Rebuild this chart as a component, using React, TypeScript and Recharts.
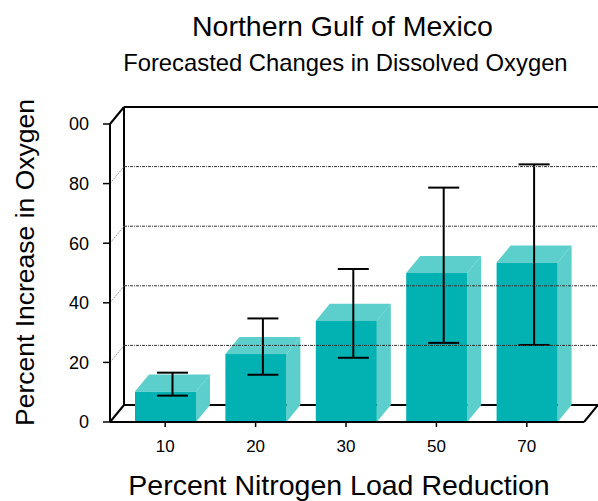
import React from 'react';
import { BarChart, Bar, XAxis, YAxis, ReferenceLine, ReferenceArea } from 'recharts';

// ---- data ----
const categories = ['10', '20', '30', '50', '70'];
const oxygenIncrease = [10.2, 22.8, 34, 50, 53.5];
const errorHigh = [13.7, 31.9, 48.5, 75.8, 83.6];
const errorLow = [6.0, 13.0, 18.7, 23.7, 23.0];
const yTicks = [0, 20, 40, 60, 80, 100];
const yTickLabels = ['0', '20', '40', '60', '80', '00'];
const gridValues = [20, 40, 60, 80];

const data = categories.map((c, i) => ({
  category: c,
  oxygen: oxygenIncrease[i],
  high: errorHigh[i],
  low: errorLow[i],
}));

// ---- style ----
const DX = 14;
const DY = -17;
const FRONT = '#02B2B2';
const LIGHT = '#5CCECB';
const FONT = '"Liberation Sans", Arial, Helvetica, sans-serif';
const W = 598;
const H = 501;

function Box3D(props: any) {
  const { x, y, width: w, height: h, payload } = props;
  if (!h || h <= 0) return null;
  const ppu = h / payload.oxygen;
  const base = y + h;
  const cx = x + w / 2 + DX / 2;
  const yHi = base - payload.high * ppu + DY / 2;
  const yLo = base - payload.low * ppu + DY / 2;
  const cap = 15.5;
  return (
    <g>
      <polygon
        points={`${x},${y} ${x + DX},${y + DY} ${x + w + DX},${y + DY} ${x + w},${y}`}
        fill={LIGHT}
      />
      <polygon
        points={`${x + w},${y} ${x + w + DX},${y + DY} ${x + w + DX},${base + DY} ${x + w},${base}`}
        fill={LIGHT}
      />
      <rect x={x} y={y} width={w} height={h} fill={FRONT} />
      <line x1={cx} y1={yHi} x2={cx} y2={yLo} stroke="#000" strokeWidth={2} />
      <line x1={cx - cap} y1={yHi} x2={cx + cap} y2={yHi} stroke="#000" strokeWidth={2} />
      <line x1={cx - cap} y1={yLo} x2={cx + cap} y2={yLo} stroke="#000" strokeWidth={2} />
    </g>
  );
}

function BackGrid(props: any) {
  const { x1, y1, x2 } = props;
  const left = Math.min(x1, x2);
  const right = Math.max(x1, x2);
  return (
    <g>
      <line
        x1={left}
        y1={y1}
        x2={left + DX}
        y2={y1 + DY}
        stroke="#9a9a9a"
        strokeWidth={1}
        strokeDasharray="2 1"
      />
      <line
        x1={left + DX}
        y1={y1 + DY}
        x2={right + DX}
        y2={y1 + DY}
        stroke="#333"
        strokeWidth={1}
        strokeDasharray="3 1 1 1"
      />
    </g>
  );
}

function Frame(props: any) {
  const { x, y, width: w, height: h } = props;
  const bx = x + DX;
  const by = y + DY;
  const fy = y + h;
  const s = { stroke: '#000', strokeWidth: 2, fill: 'none' };
  return (
    <g>
      <line x1={bx} y1={by} x2={bx} y2={fy + DY} {...s} />
      <line x1={bx} y1={by} x2={x + w + DX} y2={by} {...s} />
      <line x1={x} y1={y} x2={bx} y2={by} {...s} />
      <line x1={bx} y1={fy + DY} x2={x + w + DX} y2={fy + DY} {...s} />
      <line x1={x} y1={fy} x2={bx} y2={fy + DY} {...s} />
      <line x1={x + w} y1={fy} x2={x + w + DX} y2={fy + DY} {...s} />
    </g>
  );
}

export default function App() {
  return (
    <div style={{ position: 'absolute', left: 0, top: 0, width: W, height: H, background: '#fff' }}>
      <BarChart
        width={W}
        height={H}
        data={data}
        margin={{ top: 124, right: 14, bottom: 0, left: 0 }}
      >
        <XAxis
          xAxisId="frame"
          type="number"
          domain={[0, 1]}
          allowDataOverflow
          padding={{ left: 0, right: 0 }}
          hide
        />
        <XAxis
          dataKey="category"
          height={79}
          padding={{ left: 10, right: 12 }}
          tickSize={5}
          tickMargin={12.7}
          axisLine={{ stroke: '#000', strokeWidth: 2 }}
          tickLine={{ stroke: '#000', strokeWidth: 1.5 }}
          tick={{ fill: '#000', fontSize: 17, fontFamily: FONT }}
        />
        <YAxis
          width={110}
          domain={[0, 100]}
          ticks={yTicks}
          interval={0}
          tickFormatter={(v: number) => yTickLabels[yTicks.indexOf(v)] ?? String(v)}
          tickSize={7}
          tickMargin={14}
          axisLine={{ stroke: '#000', strokeWidth: 2 }}
          tickLine={{ stroke: '#000', strokeWidth: 1.5 }}
          tick={{ fill: '#000', fontSize: 18, fontFamily: FONT }}
        />
        <ReferenceArea
          xAxisId="frame"
          y1={0}
          y2={100}
          ifOverflow="visible"
          shape={Frame}
        />
        {gridValues.map((v) => (
          <ReferenceLine key={v} y={v} shape={BackGrid} />
        ))}
        <Bar dataKey="oxygen" barSize={61} shape={Box3D} isAnimationActive={false} />
      </BarChart>
      <svg
        width={W}
        height={H}
        style={{ position: 'absolute', left: 0, top: 0, pointerEvents: 'none' }}
      >
        <text x={342.5} y={36} textAnchor="middle" fontSize={28.5} fontFamily={FONT} fill="#000">
          Northern Gulf of Mexico
        </text>
        <text x={345.4} y={71} textAnchor="middle" fontSize={23.8} fontFamily={FONT} fill="#000">
          Forecasted Changes in Dissolved Oxygen
        </text>
        <text
          x={33.5}
          y={262.5}
          textAnchor="middle"
          fontSize={26.5}
          fontFamily={FONT}
          fill="#000"
          transform="rotate(-90 33.5 262.5)"
        >
          Percent Increase in Oxygen
        </text>
        <text x={339} y={494.5} textAnchor="middle" fontSize={28.5} fontFamily={FONT} fill="#000">
          Percent Nitrogen Load Reduction
        </text>
      </svg>
    </div>
  );
}
